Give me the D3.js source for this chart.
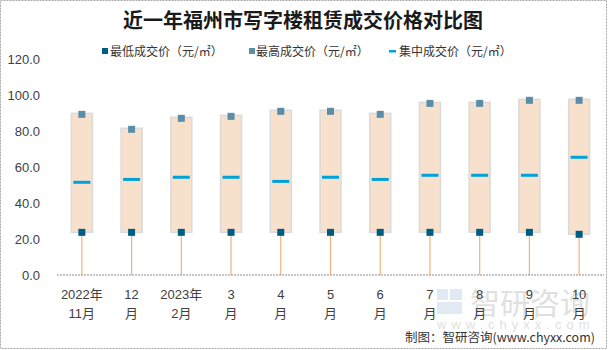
<!DOCTYPE html>
<html><head><meta charset="utf-8">
<script src="https://cdn.jsdelivr.net/npm/d3@7"></script>
<style>body{margin:0;background:#fff}svg{display:block}</style>
</head><body>
<svg id="chart" width="608" height="350"></svg>
<script>
const categories = ["2022年\n11月","12\n月","2023年\n2月","3\n月","4\n月","5\n月","6\n月","7\n月","8\n月","9\n月","10\n月"];
const minPrice = [23.7,23.7,23.7,23.7,23.7,23.7,23.7,23.7,23.7,23.7,22.6];
const maxPrice = [89.8,81.5,87.6,88.7,91.5,91.5,89.8,95.9,95.9,97.6,97.6];
const midPrice = [51.5,53.1,54.3,54.3,52.0,54.3,53.1,55.4,55.4,55.4,65.4];
const yTicks = [0,20,40,60,80,100,120];
const legendLabels = ["最低成交价（元/㎡）","最高成交价（元/㎡）","集中成交价（元/㎡）"];

const svg = d3.select("#chart");
const cjk = "'Noto Sans CJK SC','Liberation Sans',sans-serif";
const num = "'Liberation Sans','Noto Sans CJK SC',sans-serif";

svg.append("rect").attr("x",0.5).attr("y",0.5).attr("width",606).attr("height",348)
  .attr("fill","#fff").attr("stroke","#a6a6a6").attr("stroke-dasharray","2,1");

const x = d3.scaleBand().domain(categories).range([57,604]);
const y = d3.scaleLinear().domain([0,120]).range([275,59]);

// title
svg.append("text").attr("x",303).attr("y",28).attr("text-anchor","middle")
  .attr("font-family",cjk).attr("font-weight","bold").attr("font-size",20).attr("fill","#1a1a1a")
  .text("近一年福州市写字楼租赁成交价格对比图");

// y axis labels
const yAxis = d3.axisLeft(y).tickValues(yTicks).tickFormat(d3.format(".1f")).tickSize(0).tickPadding(0);
const yg = svg.append("g").attr("transform","translate(40,0)").call(yAxis);
yg.select(".domain").remove();
yg.selectAll("text").attr("font-family",num).attr("font-size",13).attr("fill","#404040");

// watermark
const wm = svg.append("g").attr("opacity",0.55);
wm.append("rect").attr("x",437).attr("y",289).attr("width",11).attr("height",11).attr("fill","#c9d9e8");
wm.append("rect").attr("x",450).attr("y",289).attr("width",12).attr("height",11).attr("fill","#c9d9e8");
wm.append("rect").attr("x",437).attr("y",302).attr("width",25).attr("height",12).attr("fill","#c9d9e8");
wm.append("text").attr("x",470).attr("y",314).attr("font-family",cjk).attr("font-size",30)
  .attr("fill","#c8c8c8").text("智研咨询");
wm.append("text").attr("x",437).attr("y",329).attr("font-family",num).attr("font-size",13)
  .attr("letter-spacing",5).attr("fill","#c8c8c8").text("www.chyxx.com");

// whiskers
const cx = d => x(d) + x.bandwidth()/2;
const bw = 21;
svg.append("g").selectAll("line").data(categories).join("line")
  .attr("x1",cx).attr("x2",cx).attr("y1",(d,i)=>y(minPrice[i])).attr("y2",y(0))
  .attr("stroke","#f0b27a").attr("stroke-width",1.2);

// boxes
svg.append("g").selectAll("rect").data(categories).join("rect")
  .attr("x",d=>cx(d)-bw/2).attr("width",bw)
  .attr("y",(d,i)=>y(maxPrice[i])).attr("height",(d,i)=>y(minPrice[i])-y(maxPrice[i]))
  .attr("fill","#f7e1cc").attr("stroke","#dadada").attr("stroke-width",1.5);

// axis line
svg.append("line").attr("x1",57).attr("x2",604).attr("y1",y(0)).attr("y2",y(0))
  .attr("stroke","#8c8c8c").attr("stroke-width",1).attr("stroke-dasharray","2,1");

// median
svg.append("g").selectAll("rect").data(categories).join("rect")
  .attr("x",d=>cx(d)-8.5).attr("width",17)
  .attr("y",(d,i)=>y(midPrice[i])-1.5).attr("height",3).attr("fill","#00a2de");

// min markers
svg.append("g").selectAll("rect").data(categories).join("rect")
  .attr("x",d=>cx(d)-3.5).attr("width",7)
  .attr("y",(d,i)=>y(minPrice[i])-3.5).attr("height",7).attr("fill","#005d82");
// max markers
svg.append("g").selectAll("rect").data(categories).join("rect")
  .attr("x",d=>cx(d)-3.5).attr("width",7)
  .attr("y",(d,i)=>y(maxPrice[i])-2.5).attr("height",7).attr("fill","#5a8da7");

// x labels
const xl = svg.append("g").selectAll("text").data(categories).join("text")
  .attr("x",cx).attr("text-anchor","middle").attr("font-family",num).attr("font-size",13).attr("fill","#404040");
xl.selectAll("tspan").data(d=>d.split("\n")).join("tspan")
  .attr("x",function(){return this.parentNode.getAttribute("x");})
  .attr("y",(d,i)=>299+i*19).text(d=>d);

// legend
const lg = svg.append("g").attr("font-family",cjk).attr("font-size",12).attr("fill","#333");
lg.append("rect").attr("x",102).attr("y",48).attr("width",6).attr("height",6).attr("fill","#005d82");
lg.append("text").attr("x",110).attr("y",55.5).text(legendLabels[0]);
lg.append("rect").attr("x",249).attr("y",48).attr("width",6).attr("height",6).attr("fill","#5a8da7");
lg.append("text").attr("x",256).attr("y",55.5).text(legendLabels[1]);
lg.append("rect").attr("x",389).attr("y",50).attr("width",7).attr("height",2.5).attr("fill","#00a2de");
lg.append("text").attr("x",399).attr("y",55.5).text(legendLabels[2]);

// source
svg.append("text").attr("x",595).attr("y",342).attr("text-anchor","end")
  .attr("font-family",cjk).attr("font-size",12.5).attr("fill","#333")
  .text("制图：智研咨询(www.chyxx.com)");
</script>
</body></html>
